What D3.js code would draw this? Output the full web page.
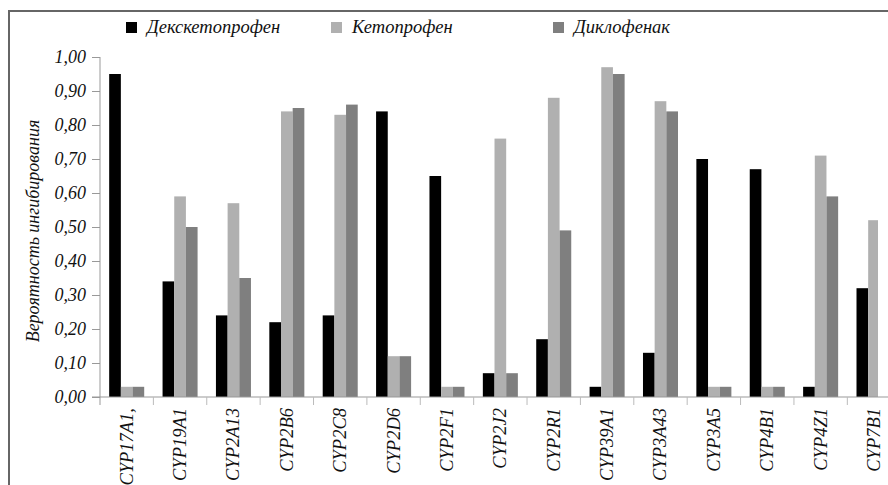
<!DOCTYPE html>
<html><head><meta charset="utf-8">
<script src="https://cdn.jsdelivr.net/npm/d3@7"></script>
<style>
html,body{margin:0;padding:0;background:#fff;}
svg{display:block;}
text{font-family:"Liberation Serif","Times New Roman",serif;font-style:italic;fill:#111;}
</style></head>
<body>
<svg id="chart" width="888" height="485"></svg>
<script>
const categories = ["CYP17A1,","CYP19A1","CYP2A13","CYP2B6","CYP2C8","CYP2D6","CYP2F1","CYP2J2","CYP2R1","CYP39A1","CYP3A43","CYP3A5","CYP4B1","CYP4Z1","CYP7B1"];
const seriesNames = ["Декскетопрофен","Кетопрофен","Диклофенак"];
const dexketoprofen = [0.95,0.34,0.24,0.22,0.24,0.84,0.65,0.07,0.17,0.03,0.13,0.70,0.67,0.03,0.32];
const ketoprofen    = [0.03,0.59,0.57,0.84,0.83,0.12,0.03,0.76,0.88,0.97,0.87,0.03,0.03,0.71,0.52];
const diclofenac    = [0.03,0.50,0.35,0.85,0.86,0.12,0.03,0.07,0.49,0.95,0.84,0.03,0.03,0.59,null];
const yTicks = [0,0.1,0.2,0.3,0.4,0.5,0.6,0.7,0.8,0.9,1.0];
const colors = ["#000000","#b0b0b0","#7f7f7f"];
const yTitle = "Вероятность ингибирования";

const svg = d3.select("#chart");
const x0 = 100, step = 53.38;
const x = d3.scaleBand().domain(categories).range([x0, x0 + step*categories.length]).paddingInner(0.344).paddingOuter(0.172);
const xs = d3.scaleBand().domain(d3.range(3)).range([0, x.bandwidth()]);
const y = d3.scaleLinear().domain([0,1]).range([397,57]);

// frame
svg.append("path").attr("d","M9,490 L9,11 L900,11").attr("fill","none").attr("stroke","#666").attr("stroke-width",2);

// legend
const legX = [126, 331, 553];
seriesNames.forEach((n,i)=>{
  svg.append("rect").attr("x",legX[i]).attr("y",22).attr("width",11).attr("height",11).attr("fill",colors[i]);
  svg.append("text").attr("x",legX[i]+21).attr("y",33).attr("font-size",18.5).text(n);
});

// y axis
const yAxis = d3.axisLeft(y).tickValues(yTicks).tickSize(8).tickPadding(6)
  .tickFormat(d=>d3.format(".2f")(d).replace(".",","));
const gy = svg.append("g").attr("transform",`translate(${x0},0)`).call(yAxis);
gy.select(".domain").remove();
gy.selectAll(".tick line").attr("stroke","#999");
gy.selectAll(".tick text").attr("font-size",18).attr("font-family","Liberation Serif, serif").attr("font-style","italic").attr("fill","#111");
svg.append("line").attr("x1",x0).attr("x2",x0).attr("y1",y(1)).attr("y2",405).attr("stroke","#999");

// bars
svg.append("clipPath").attr("id","pc").append("rect").attr("x",0).attr("y",0).attr("width",878).attr("height",485);
const series = [dexketoprofen, ketoprofen, diclofenac];
const gb = svg.append("g").attr("clip-path","url(#pc)");
series.forEach((vals,si)=>{
  gb.selectAll(null).data(categories.map((c,i)=>({c,v:vals[i]})).filter(d=>d.v!=null))
    .enter().append("rect")
    .attr("x",d=>x(d.c)+xs(si)).attr("width",xs.bandwidth())
    .attr("y",d=>y(d.v)).attr("height",d=>y(0)-y(d.v))
    .attr("fill",colors[si]);
});

// x axis
svg.append("line").attr("x1",x0-8).attr("x2",888).attr("y1",y(0)).attr("y2",y(0)).attr("stroke","#999");
categories.forEach((c,i)=>{
  const bx = x0 + i*step;
  if(i>0) svg.append("line").attr("x1",bx).attr("x2",bx).attr("y1",y(0)).attr("y2",405).attr("stroke","#bbb");
  const cx = x(c)+x.bandwidth()/2;
  svg.append("text").attr("transform",`translate(${cx+6},408) rotate(-90)`).attr("text-anchor","end").attr("font-size",18.5).text(c);
});

// y title
svg.append("text").attr("transform","translate(39,231) rotate(-90)").attr("text-anchor","middle").attr("font-size",18).text(yTitle);
</script>
</body></html>
